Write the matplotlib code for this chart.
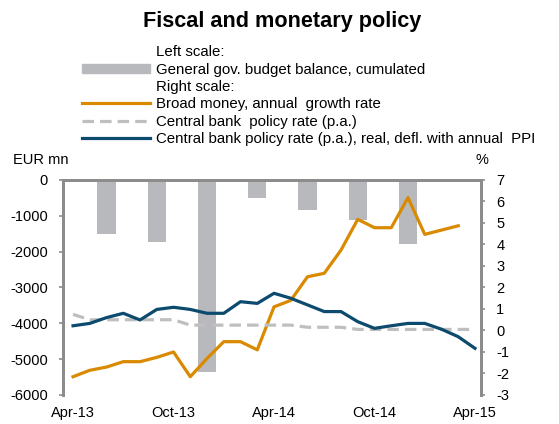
import matplotlib.pyplot as plt
from matplotlib.lines import Line2D
from matplotlib.patches import Patch

plt.rcParams['font.family'] = ['Liberation Sans', 'DejaVu Sans']
plt.rcParams['axes.unicode_minus'] = False

# months since Apr-13
months = list(range(25))
tick_pos = [0, 6, 12, 18, 24]
tick_labels = ['Apr-13', 'Oct-13', 'Apr-14', 'Oct-14', 'Apr-15']

# quarterly cumulated budget balance (EUR mn), Jun-13 .. Dec-14
bar_months = [2, 5, 8, 11, 14, 17, 20]
budget = [-1500, -1720, -5350, -500, -840, -1120, -1790]

# broad money growth (%), Apr-13 .. Mar-15
broad_money = [-2.15, -1.85, -1.7, -1.45, -1.45, -1.25, -1.0, -2.15, -1.3, -0.52,
               -0.52, -0.9, 1.1, 1.4, 2.5, 2.66, 3.74, 5.17, 4.78, 4.78,
               6.18, 4.47, 4.67, 4.87]
# central bank policy rate (%), Apr-13 .. Apr-15
policy_rate = [0.75, 0.5, 0.5, 0.5, 0.5, 0.5, 0.5, 0.25, 0.25, 0.25, 0.25, 0.25,
               0.25, 0.25, 0.15, 0.15, 0.15, 0.05, 0.05, 0.05, 0.05, 0.05, 0.05,
               0.05, 0.05]
# real policy rate, deflated with PPI (%)
real_rate = [0.22, 0.33, 0.6, 0.8, 0.49, 0.98, 1.08, 0.98, 0.8, 0.8, 1.34, 1.26,
             1.73, 1.5, 1.19, 0.88, 0.88, 0.41, 0.1, 0.22, 0.33, 0.33, 0.06,
             -0.29, -0.83]

bar_color = '#B8B9BC'
orange = '#D98A00'
blue = '#0C4A6E'
dash_gray = '#BFBFBF'
axis_gray = '#8C8C8C'
dash = (3.6, 1.9)

fig = plt.figure(figsize=(5.59, 4.24), dpi=100)
ax = fig.add_axes([0.1127, 0.0684, 0.7478, 0.5071])
ax2 = ax.twinx()

ax.bar(bar_months, budget, width=1.1, color=bar_color, zorder=1)
ax2.plot(months[:len(broad_money)], broad_money, color=orange, lw=2.3)
ax2.plot(months, policy_rate, color=dash_gray, lw=2.3, dashes=dash)
ax2.plot(months, real_rate, color=blue, lw=2.3)

ax.set_xlim(-0.6, 24.36)
ax.set_ylim(-6000, 0)
ax.set_yticks(range(-6000, 1, 1000))
ax2.set_ylim(-3, 7)
ax2.set_yticks(range(-3, 8))
ax.set_xticks(tick_pos)
ax.set_xticklabels(tick_labels)

for a in (ax, ax2):
    a.spines['bottom'].set_visible(False)
    for s in ('top', 'left', 'right'):
        a.spines[s].set_color(axis_gray)
        a.spines[s].set_linewidth(2)
    a.tick_params(axis='y', color=axis_gray, width=1.2, length=3, labelsize=10.5, pad=8)
ax.tick_params(axis='x', length=0, labelsize=10.5, pad=8)

fig.text(0.024, 0.605, 'EUR mn', fontsize=10.5, ha='left', va='bottom')
fig.text(0.862, 0.605, '%', fontsize=10.5, ha='center', va='bottom')

fig.suptitle('Fiscal and monetary policy', x=0.505, y=0.975, fontsize=15.6,
             fontweight='bold', va='top')

blank = Line2D([], [], color='none')
handles = [blank, Patch(color=bar_color), blank,
           Line2D([], [], color=orange, lw=2.3),
           Line2D([], [], color=dash_gray, lw=2.3, dashes=dash),
           Line2D([], [], color=blue, lw=2.3)]
labels = ['Left scale:', 'General gov. budget balance, cumulated', 'Right scale:',
          'Broad money, annual  growth rate', 'Central bank  policy rate (p.a.)',
          'Central bank policy rate (p.a.), real, defl. with annual  PPI']
fig.legend(handles, labels, loc='upper left', bbox_to_anchor=(0.147, 0.893),
           frameon=False, fontsize=10.8, handlelength=4.5, handletextpad=0.45,
           labelspacing=0.22, borderpad=0, borderaxespad=0, handleheight=0.55)

fig.savefig('out.png', dpi=100)
